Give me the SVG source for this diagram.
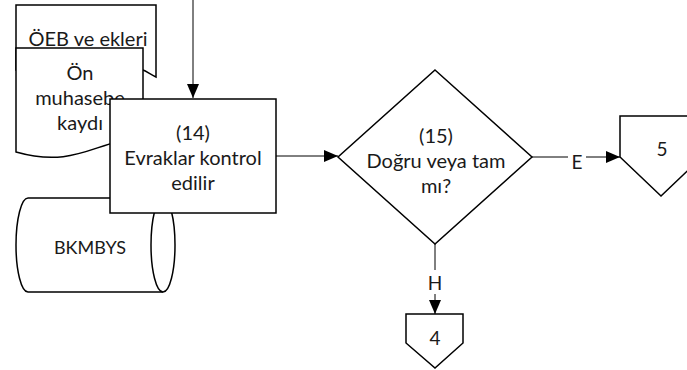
<svg xmlns="http://www.w3.org/2000/svg" width="687" height="370" viewBox="0 0 687 370">
<defs>
<marker id="ah" markerWidth="14" markerHeight="14" refX="14" refY="6" orient="auto" markerUnits="userSpaceOnUse" viewBox="0 0 14 12"><path d="M0,0 L14,6 L0,12 z" fill="#000"/></marker>
<style>
.s{fill:#fff;stroke:#000;stroke-width:1.5}
.l{fill:none;stroke:#000;stroke-width:1}
.t{font-family:Lato,"Liberation Sans",sans-serif;font-size:20px;fill:#1a1a1a;text-anchor:middle;dominant-baseline:central}
.a{font-family:Lato,"Liberation Sans",sans-serif;font-size:19px;fill:#1a1a1a;text-anchor:middle;dominant-baseline:central}
</style>
</defs>
<rect width="687" height="370" fill="#fff"/>
<g id="connectors">
<path class="l" d="M193,0 V98" marker-end="url(#ah)"/>
<path class="l" d="M276,156 H338" marker-end="url(#ah)"/>
<path class="l" d="M532,157 H568 M586,157 H620" marker-end="url(#ah)"/>
<text class="a" x="577" y="161">E</text>
<path class="l" d="M435,244 V270 M435,294 V314" marker-end="url(#ah)"/>
<text class="a" x="435" y="282">H</text>
</g>
<g id="doc-oeb">
<path class="s" d="M16,5 H156 V77 C150,74 146,71 143,70 L16,70 Z"/>
<text class="t" x="88" y="38">ÖEB ve ekleri</text>
</g>
<g id="doc-on">
<path class="s" d="M16,48 H143 V140 C100,136 80,170 16,152 Z"/>
<text class="t" x="80" y="72">Ön</text>
<text class="t" x="80" y="97">muhasebe</text>
<text class="t" x="80" y="122">kaydı</text>
</g>
<g id="db-bkmbys">
<path class="s" d="M28,198 H163 A12,47 0 0 1 163,292 H28 A12,47 0 0 1 28,198 Z"/>
<path class="s" d="M163,198 A12,47 0 0 0 163,292"/>
<text class="a" x="90" y="247" style="font-size:18px">BKMBYS</text>
</g>
<g id="proc-14">
<rect class="s" x="110" y="99" width="166" height="114"/>
<text class="t" x="193" y="132">(14)</text>
<text class="t" x="193" y="157">Evraklar kontrol</text>
<text class="t" x="193" y="182">edilir</text>
</g>
<g id="dec-15">
<path class="s" d="M435,70 L532,157 L435,244 L338,157 Z"/>
<text class="t" x="436" y="135">(15)</text>
<text class="t" x="436" y="160">Doğru veya tam</text>
<text class="t" x="436" y="185">mı?</text>
</g>
<g id="off-5">
<path class="s" d="M620,116 H702 V157 L661,196 L620,157 Z"/>
<text class="a" x="662" y="148">5</text>
</g>
<g id="off-4">
<path class="s" d="M406,314 H463 V343 L435,368 L406,343 Z"/>
<text class="a" x="435" y="337">4</text>
</g>
</svg>
